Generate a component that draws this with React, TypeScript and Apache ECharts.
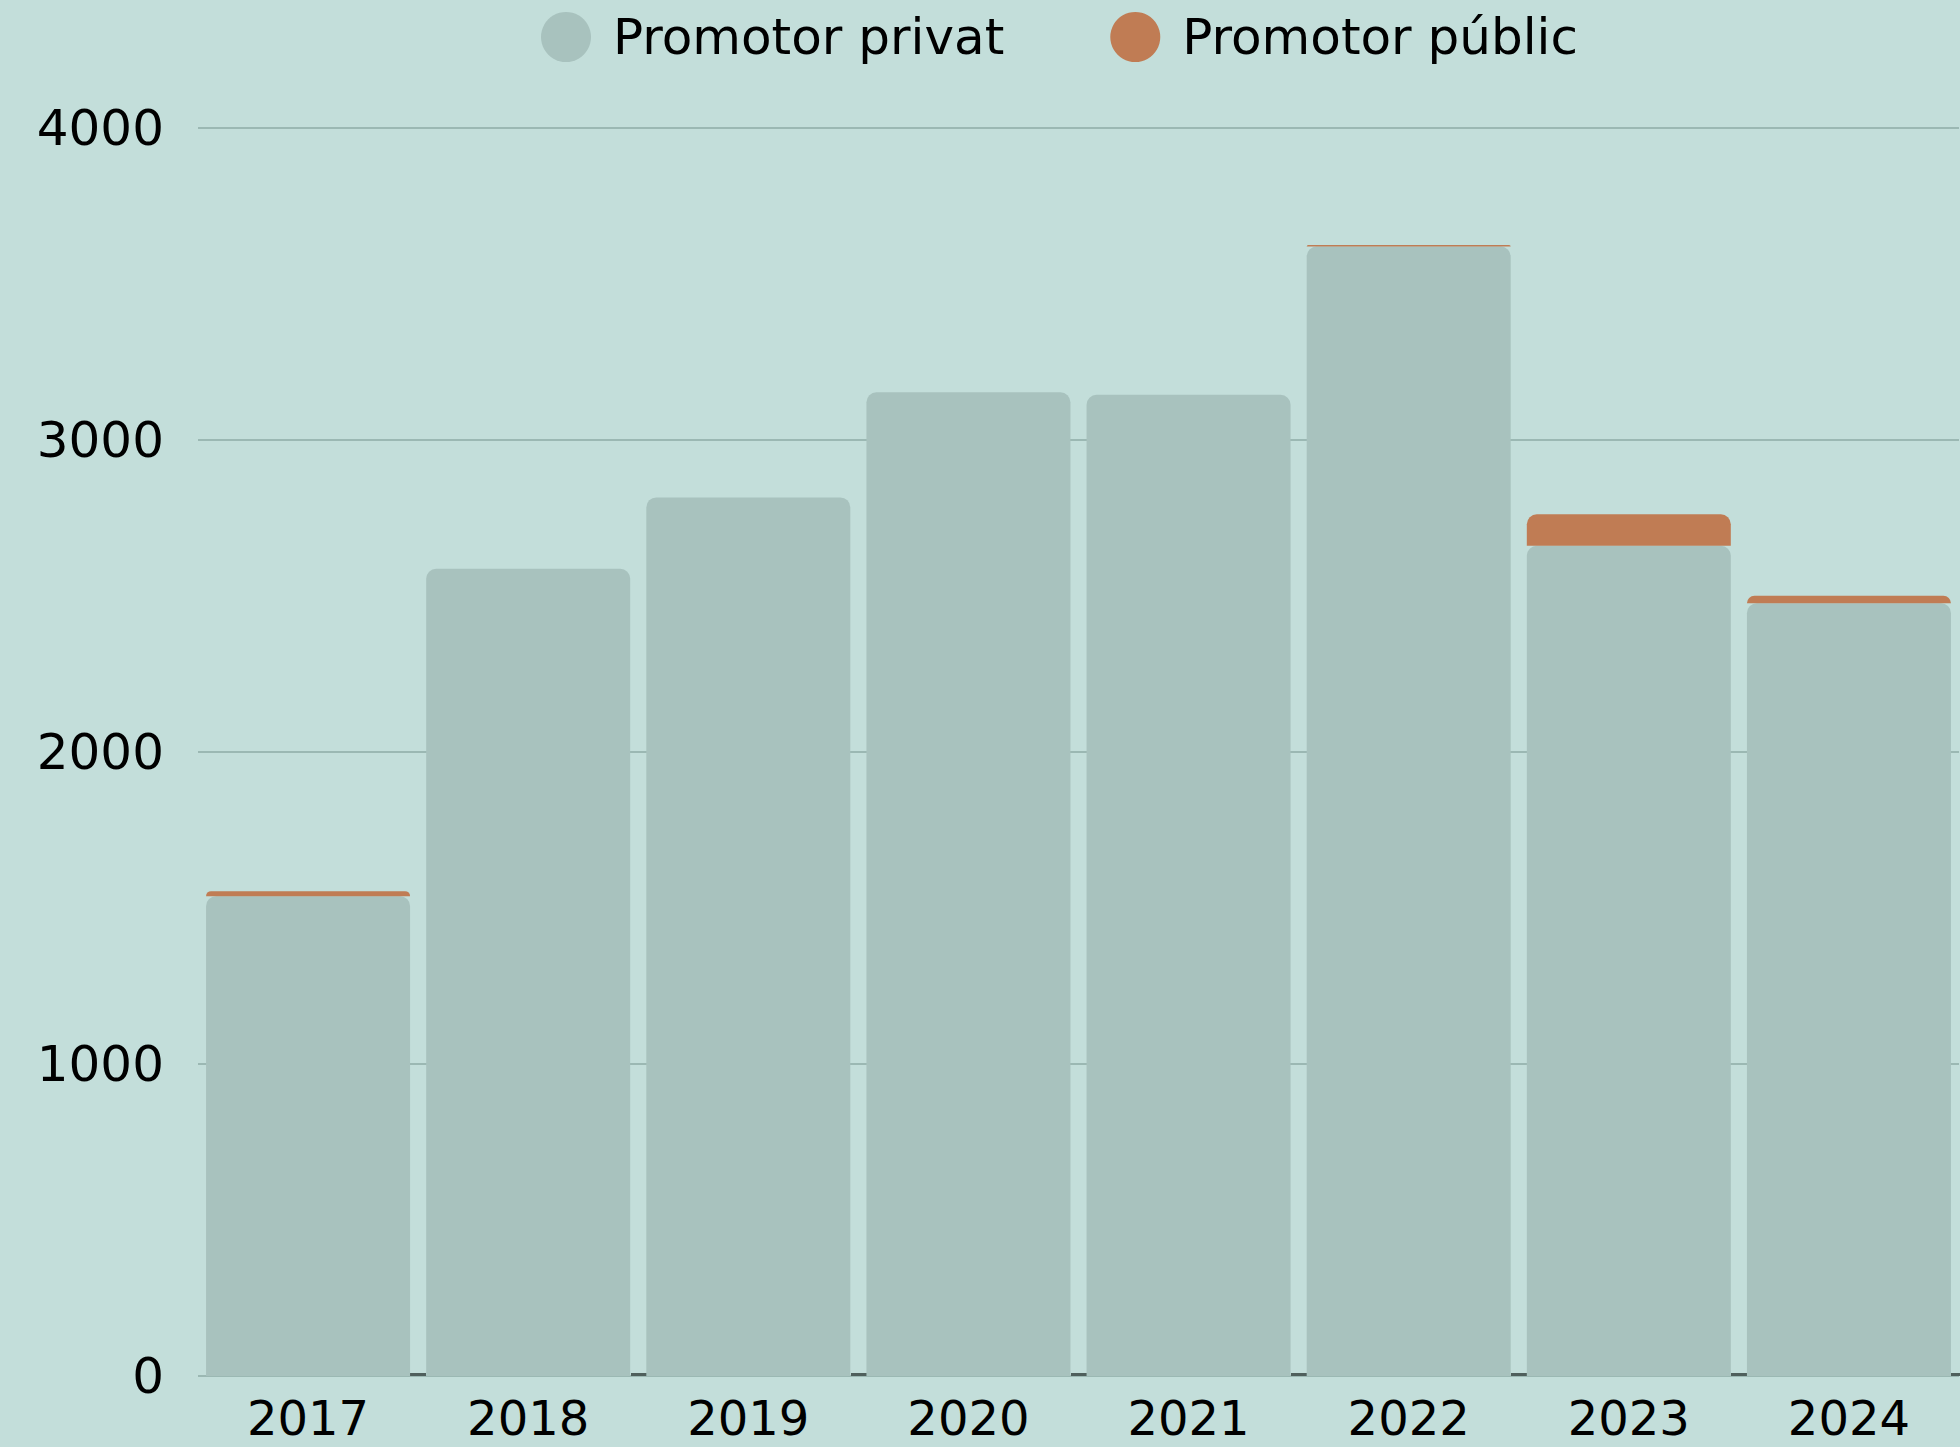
import React, { useEffect, useRef } from "react";
import * as echarts from "echarts";

const years = ["2017", "2018", "2019", "2020", "2021", "2022", "2023", "2024"];
const privat = [1538, 2587, 2816, 3153, 3145, 3620, 2661, 2477];
const public_ = [16, 0, 0, 0, 0, 5, 101, 24];
const seriesNames = ["Promotor privat", "Promotor públic"];
const yTicks = [0, 1000, 2000, 3000, 4000];

const BG = "#C3DEDA";
const GRAY = "#A8C2BE";
const ORANGE = "#C07C54";
const FONT = "DejaVu Sans";

export default function App() {
  const ref = useRef<HTMLDivElement>(null);
  useEffect(() => {
    document.body.style.margin = "0";
    document.body.style.background = BG;
    const chart = echarts.init(ref.current!, null, { renderer: "svg" });
    chart.setOption({
      animation: false,
      backgroundColor: BG,
      legend: {
        left: 536,
        top: 7,
        icon: "circle",
        itemWidth: 50,
        itemHeight: 50,
        itemGap: 106,
        data: seriesNames,
        textStyle: { fontFamily: FONT, fontSize: 50, color: "#000", padding: [0, 0, 0, 17] },
      },
      grid: {
        left: 198,
        right: 1,
        top: 128,
        bottom: 71,
        containLabel: false,
        outerBoundsMode: "none",
      },
      xAxis: {
        type: "category",
        data: years,
        axisLine: { show: false },
        axisTick: {
          show: true,
          inside: true,
          length: 3,
          interval: (i: number) => i > 0,
          lineStyle: { color: "#4F5F5C", width: 16 },
        },
        axisLabel: { fontFamily: FONT, fontSize: 48, lineHeight: 34, color: "#000", margin: 25 },
      },
      yAxis: {
        type: "value",
        min: yTicks[0],
        max: yTicks[yTicks.length - 1],
        interval: 1000,
        axisLine: { show: false },
        axisTick: { show: false },
        splitLine: { lineStyle: { color: "#8EABA6", width: 1.5 } },
        axisLabel: {
          fontFamily: FONT,
          fontSize: 50,
          color: "#000",
          margin: 34,
          formatter: (v: number) => String(v),
        },
      },
      series: [
        {
          name: seriesNames[0],
          type: "bar",
          stack: "total",
          data: privat,
          barWidth: 204,
          itemStyle: { color: GRAY, borderRadius: [10, 10, 0, 0] },
        },
        {
          name: seriesNames[1],
          type: "bar",
          stack: "total",
          data: public_,
          barWidth: 204,
          itemStyle: { color: ORANGE, borderRadius: [10, 10, 0, 0] },
        },
      ],
    });
    return () => chart.dispose();
  }, []);
  return (
    <div
      ref={ref}
      style={{ position: "absolute", left: 0, top: 0, width: 1960, height: 1447 }}
    />
  );
}
